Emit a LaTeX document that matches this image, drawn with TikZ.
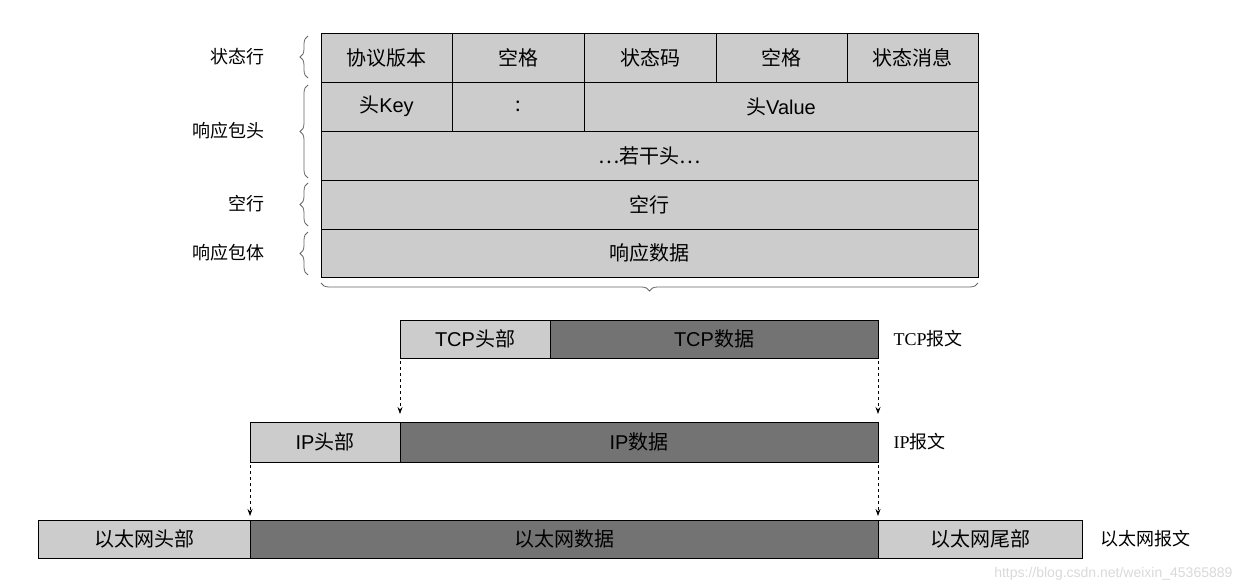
\documentclass[tikz,border=0pt]{standalone}
\usepackage{fontspec}
\setmainfont{Liberation Sans}
\newfontfamily\cjk{Noto Sans CJK SC}
\newfontfamily\ser{Liberation Serif}
\usetikzlibrary{decorations.pathreplacing,arrows.meta}
\begin{document}
\begin{tikzpicture}[x=1pt,y=-1pt,
  cell/.style={draw=black,line width=0.8pt},
  lt/.style={cell,fill=black!20},
  dk/.style={cell,fill=black!55},
  tx/.style={font=\fontsize{20}{22}\selectfont\cjk},
  lab/.style={font=\fontsize{18}{20}\selectfont\cjk},
  br/.style={decorate,decoration={brace,amplitude=8pt},draw=black!60,line width=0.8pt},
  dsh/.style={dashed,-{Stealth[length=7pt,width=5pt]},line width=0.7pt}]
\useasboundingbox (0,0) rectangle (1240,588);
% table
\foreach \a/\b/\c/\d in {321/452/33/82,452/584/33/82,584/716/33/82,716/847/33/82,847/978/33/82,
  321/452/82/131,452/584/82/131,584/978/82/131,321/978/131/180,321/978/180/229,321/978/229/277}
  {\draw[lt] (\a,\c) rectangle (\b,\d);}
\node[tx] (t1) at (386.5,57.5) {协议版本};
\node[tx] (t2) at (518,57.5) {空格};
\node[tx] (t3) at (650,57.5) {状态码};
\node[tx] (t4) at (781.5,57.5) {空格};
\node[tx] (t5) at (912.5,57.5) {状态消息};
\node[tx] (h1) at (386.5,106.5) {头{\fontspec{Liberation Sans}Key}};
\node[tx] (h2) at (518,106.5) {:};
\node[tx] (h3) at (781,106.5) {头{\fontspec{Liberation Sans}Value}};
\node[tx] (h4) at (649.5,155.5) {…若干头…};
\node[tx] (k) at (649.5,204.5) {空行};
\node[tx] (d) at (649.5,253) {响应数据};
% left braces
\draw[br] (308,78) -- (308,36);
\draw[br] (308,178) -- (308,85);
\draw[br] (308,226) -- (308,183);
\draw[br] (308,275) -- (308,232);
\node[lab,anchor=east] (l1) at (268,57) {状态行};
\node[lab,anchor=east] (l2) at (268,131) {响应包头};
\node[lab,anchor=east] (l3) at (268,204) {空行};
\node[lab,anchor=east] (l4) at (268,253) {响应包体};
\draw[br] (978,283) -- (321,283);
% TCP
\draw[lt] (400,320) rectangle (550,358); \draw[dk] (550,320) rectangle (878,358);
\node[tx] (th) at (475,339) {{\fontspec{Liberation Sans}TCP}头部};
\node[tx] (td) at (714,339) {{\fontspec{Liberation Sans}TCP}数据};
\node[lab,anchor=west] (tl) at (890,339) {{\ser TCP}报文};
% IP
\draw[lt] (250,422) rectangle (400,462); \draw[dk] (400,422) rectangle (878,462);
\node[tx] (ih) at (325,442) {{\fontspec{Liberation Sans}IP}头部};
\node[tx] (id) at (639,442) {{\fontspec{Liberation Sans}IP}数据};
\node[lab,anchor=west] (il) at (890,442) {{\ser IP}报文};
% Ethernet
\draw[lt] (38,520) rectangle (250,558); \draw[dk] (250,520) rectangle (878,558); \draw[lt] (878,520) rectangle (1082,558);
\node[tx] (eh) at (144,539) {以太网头部};
\node[tx] (ed) at (564,539) {以太网数据};
\node[tx] (et) at (980,539) {以太网尾部};
\node[lab,anchor=west] (el) at (1097,539) {以太网报文};
% arrows
\coordinate (a1) at (400,361); \coordinate (a2) at (400,414);
\coordinate (b1) at (878,361); \coordinate (b2) at (878,414);
\coordinate (c1) at (250,465); \coordinate (c2) at (250,516);
\coordinate (e1) at (878,465); \coordinate (e2) at (878,516);
\draw[dsh] (a1) -- (a2); \draw[dsh] (b1) -- (b2);
\draw[dsh] (c1) -- (c2); \draw[dsh] (e1) -- (e2);
\node[anchor=south east,text=black!15,font=\fontsize{14}{16}\selectfont] (wm) at (1236,584) {https://blog.csdn.net/weixin\_45365889};
\end{tikzpicture}
\end{document}
